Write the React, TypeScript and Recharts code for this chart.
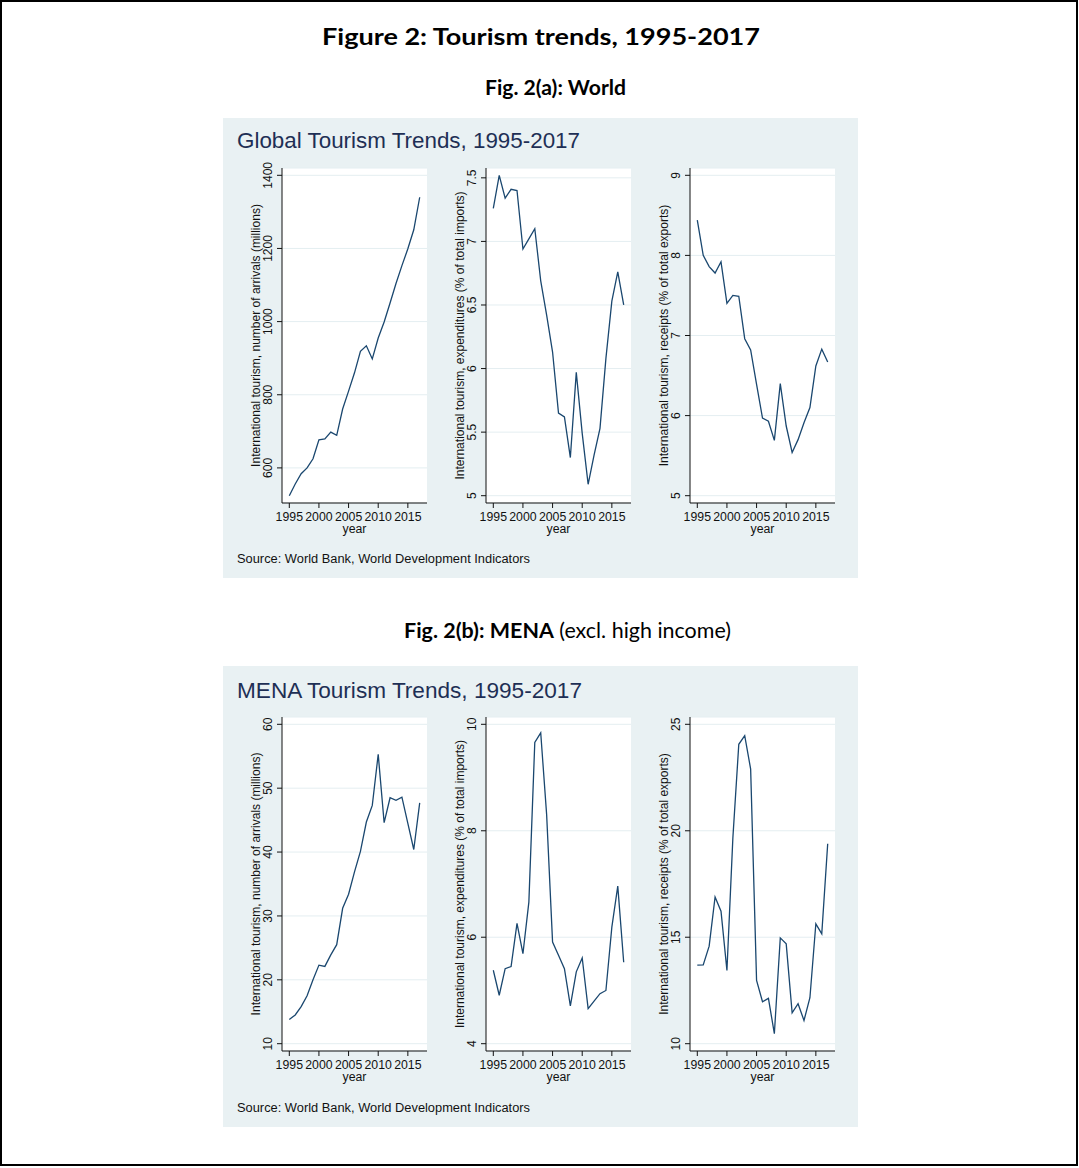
import React from 'react';
import { LineChart, Line, XAxis, YAxis, CartesianGrid } from 'recharts';

// ---------- data ----------
const YEARS = [1995, 1996, 1997, 1998, 1999, 2000, 2001, 2002, 2003, 2004, 2005, 2006, 2007, 2008, 2009, 2010, 2011, 2012, 2013, 2014, 2015, 2016, 2017];
const YEAR_TICKS = [1995, 2000, 2005, 2010, 2015];

const worldArrivals = [524, 556, 584, 600, 625, 677, 679, 698, 689, 761, 810, 860, 919, 934, 898, 955, 999, 1051, 1104, 1153, 1199, 1251, 1340];
const worldExpenditures = [7.26, 7.52, 7.34, 7.41, 7.40, 6.94, 7.02, 7.10, 6.69, 6.42, 6.13, 5.65, 5.62, 5.30, 5.97, 5.49, 5.09, 5.32, 5.53, 6.08, 6.53, 6.76, 6.50];
const worldReceipts = [8.44, 8.00, 7.86, 7.78, 7.92, 7.40, 7.50, 7.49, 6.96, 6.82, 6.39, 5.97, 5.93, 5.69, 6.40, 5.87, 5.54, 5.70, 5.91, 6.10, 6.62, 6.83, 6.67];

const menaArrivals = [13.8, 14.5, 15.8, 17.5, 20.0, 22.3, 22.1, 23.9, 25.5, 31.2, 33.4, 36.9, 40.1, 44.7, 47.3, 55.3, 44.6, 48.5, 48.1, 48.6, 44.5, 40.4, 47.7];
const menaExpenditures = [5.38, 4.91, 5.41, 5.45, 6.26, 5.69, 6.66, 9.66, 9.84, 8.30, 5.91, 5.66, 5.41, 4.71, 5.35, 5.61, 4.66, 4.80, 4.94, 5.00, 6.19, 6.96, 5.53];
const menaReceipts = [13.69, 13.70, 14.58, 16.89, 16.22, 13.44, 19.66, 24.06, 24.47, 22.90, 12.97, 11.97, 12.13, 10.47, 14.97, 14.69, 11.45, 11.88, 11.09, 12.16, 15.63, 15.16, 19.39];

const worldArrivalTicks = [600, 800, 1000, 1200, 1400];
const worldExpTicks = [5, 5.5, 6, 6.5, 7, 7.5];
const worldRecTicks = [5, 6, 7, 8, 9];
const menaArrivalTicks = [10, 20, 30, 40, 50, 60];
const menaExpTicks = [4, 6, 8, 10];
const menaRecTicks = [10, 15, 20, 25];

const LABEL_ARRIVALS = 'International tourism, number of arrivals (millions)';
const LABEL_EXP = 'International tourism, expenditures (% of total imports)';
const LABEL_REC = 'International tourism, receipts (% of total exports)';

// ---------- style ----------
const FONT = '"Liberation Sans", Arial, sans-serif';
const HEAD_FONT = 'Lato, "Open Sans", sans-serif';
const BG = '#e9f1f3';
const LINE = '#1a476f';
const TITLE_COLOR = '#1e2f55';
const GRID = '#e4eef1';

const YW = 60;
const XH = 40;
const MT = 24;
const PAD_PX = 7.3;

type PanelProps = {
  values: number[];
  ticks: number[];
  yLabel: string;
  axisX: number;
  plotTop: number;
  plotW: number;
  plotH: number;
};

const YTick = (props: any) => {
  const { x, y, payload } = props;
  const cx = x - 7;
  return (
    <text x={cx} y={y} transform={`rotate(-90, ${cx}, ${y})`} textAnchor="middle" dominantBaseline="central"
      fontSize={12} fontFamily={FONT} fill="#111">
      {payload.value}
    </text>
  );
};

const XTick = (props: any) => {
  const { x, y, payload } = props;
  return (
    <text x={x} y={y + 7} textAnchor="middle" dominantBaseline="central" fontSize={12.3} fontFamily={FONT} fill="#111">
      {payload.value}
    </text>
  );
};

function Panel({ values, ticks, yLabel, axisX, plotTop, plotW, plotH }: PanelProps) {
  const data = YEARS.map((year, i) => ({ year, v: values[i] }));
  const lo = Math.min(ticks[0], ...values);
  const hi = Math.max(ticks[ticks.length - 1], ...values);
  const pad = ((hi - lo) * PAD_PX) / (plotH - 2 * PAD_PX);
  const xPad = ((YEARS[YEARS.length - 1] - YEARS[0]) * PAD_PX) / (plotW - 2 * PAD_PX);
  const w = YW + plotW;
  const h = MT + plotH + XH;
  return (
    <div style={{ position: 'absolute', left: axisX - YW, top: plotTop - MT, width: w, height: h }}>
      <LineChart width={w} height={h} data={data} margin={{ top: MT, right: 0, bottom: 0, left: 0 }}>
        <CartesianGrid vertical={false} horizontal={true} stroke={GRID} strokeWidth={1} fill="#ffffff" fillOpacity={1} />
        <XAxis
          dataKey="year"
          type="number"
          domain={[YEARS[0] - xPad, YEARS[YEARS.length - 1] + xPad]}
          ticks={YEAR_TICKS}
          allowDataOverflow
          height={XH}
          tickSize={5}
          tickMargin={2}
          stroke="#111"
          tickLine={{ stroke: '#111' }}
          tick={<XTick />}
          interval={0}
          label={{
            content: () => (
              <text x={YW + plotW / 2} y={MT + plotH + 26} textAnchor="middle" dominantBaseline="central" fontSize={12.3} fontFamily={FONT} fill="#111">
                year
              </text>
            ),
          }}
        />
        <YAxis
          type="number"
          width={YW}
          domain={[lo - pad, hi + pad]}
          ticks={ticks}
          allowDataOverflow
          tickSize={5}
          tickMargin={2}
          stroke="#111"
          tickLine={{ stroke: '#111' }}
          tick={<YTick />}
          interval={0}
          label={{
            content: () => (
              <text x={YW - 26} y={MT + plotH / 2} transform={`rotate(-90, ${YW - 26}, ${MT + plotH / 2})`} textAnchor="middle"
                dominantBaseline="central" fontSize={12} fontFamily={FONT} fill="#111">
                {yLabel}
              </text>
            ),
          }}
        />
        <Line type="linear" dataKey="v" stroke={LINE} strokeWidth={1.3} dot={false} isAnimationActive={false} />
      </LineChart>
    </div>
  );
}

const AXES_X = [281.5, 486, 690];

export default function App() {
  return (
    <div style={{ position: 'absolute', left: 0, top: 0, width: 1079, height: 1168, background: '#fff', overflow: 'hidden' }}>
      <svg width={1079} height={1168} style={{ position: 'absolute', left: 0, top: 0 }}>
        <rect x={1} y={1} width={1076} height={1164} fill="#fff" stroke="#000" strokeWidth={2} />
        <text x={322} y={45} fontFamily={HEAD_FONT} fontWeight={700} fontSize={23} textLength={438} lengthAdjust="spacingAndGlyphs" fill="#000">
          Figure 2: Tourism trends, 1995-2017
        </text>
        <text x={485} y={95} fontFamily={HEAD_FONT} fontWeight={700} fontSize={21} textLength={141} lengthAdjust="spacingAndGlyphs" fill="#000">
          Fig. 2(a): World
        </text>
        <text x={404} y={638} fontFamily={HEAD_FONT} fontSize={21} textLength={327} lengthAdjust="spacingAndGlyphs" fill="#000">
          <tspan fontWeight={700}>Fig. 2(b): MENA</tspan>
          <tspan fontWeight={400}> (excl. high income)</tspan>
        </text>

        <rect x={223} y={118} width={635} height={460} fill={BG} />
        <text x={237} y={148} fontFamily={FONT} fontSize={22} fill={TITLE_COLOR} textLength={343} lengthAdjust="spacingAndGlyphs">
          Global Tourism Trends, 1995-2017
        </text>
        <text x={237} y={563} fontFamily={FONT} fontSize={12.5} fill="#111" textLength={293} lengthAdjust="spacingAndGlyphs">
          Source: World Bank, World Development Indicators
        </text>

        <rect x={223} y={666} width={635} height={461} fill={BG} />
        <text x={237} y={698} fontFamily={FONT} fontSize={22} fill={TITLE_COLOR} textLength={345} lengthAdjust="spacingAndGlyphs">
          MENA Tourism Trends, 1995-2017
        </text>
        <text x={237} y={1112} fontFamily={FONT} fontSize={12.5} fill="#111" textLength={293} lengthAdjust="spacingAndGlyphs">
          Source: World Bank, World Development Indicators
        </text>
      </svg>

      <Panel values={worldArrivals} ticks={worldArrivalTicks} yLabel={LABEL_ARRIVALS} axisX={AXES_X[0]} plotTop={168} plotW={145} plotH={335} />
      <Panel values={worldExpenditures} ticks={worldExpTicks} yLabel={LABEL_EXP} axisX={AXES_X[1]} plotTop={168} plotW={145} plotH={335} />
      <Panel values={worldReceipts} ticks={worldRecTicks} yLabel={LABEL_REC} axisX={AXES_X[2]} plotTop={168} plotW={145} plotH={335} />

      <Panel values={menaArrivals} ticks={menaArrivalTicks} yLabel={LABEL_ARRIVALS} axisX={AXES_X[0]} plotTop={717} plotW={145} plotH={334} />
      <Panel values={menaExpenditures} ticks={menaExpTicks} yLabel={LABEL_EXP} axisX={AXES_X[1]} plotTop={717} plotW={145} plotH={334} />
      <Panel values={menaReceipts} ticks={menaRecTicks} yLabel={LABEL_REC} axisX={AXES_X[2]} plotTop={717} plotW={145} plotH={334} />
    </div>
  );
}
